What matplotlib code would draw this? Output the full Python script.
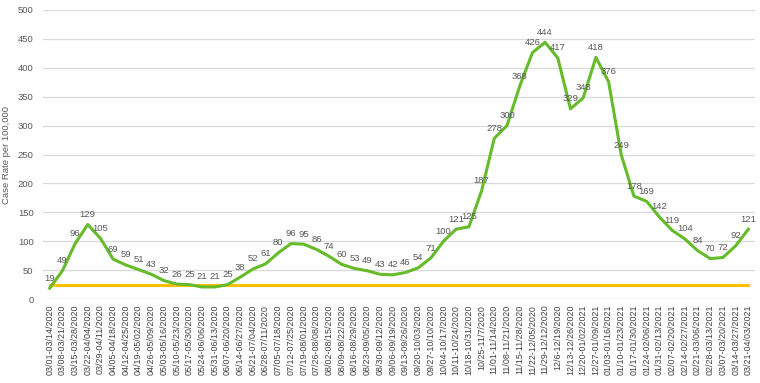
import matplotlib
matplotlib.use('Agg')
import matplotlib.pyplot as plt

plt.rcParams['font.family'] = ['Liberation Sans', 'DejaVu Sans']

# Two-week windows
weeks = [
    '03/01-03/14/2020', '03/08-03/21/2020', '03/15-03/28/2020', '03/22-04/04/2020',
    '03/29-04/11/2020', '04/05-04/18/2020', '04/12-04/25/2020', '04/19-05/02/2020',
    '04/26-05/09/2020', '05/03-05/16/2020', '05/10-05/23/2020', '05/17-05/30/2020',
    '05/24-06/06/2020', '05/31-06/13/2020', '06/07-06/20/2020', '06/14-06/27/2020',
    '06/21-07/04/2020', '06/28-07/11/2020', '07/05-07/18/2020', '07/12-07/25/2020',
    '07/19-08/01/2020', '07/26-08/08/2020', '08/02-08/15/2020', '08/09-08/22/2020',
    '08/16-08/29/2020', '08/23-09/05/2020', '08/30-09/12/2020', '09/06-09/19/2020',
    '09/13-09/26/2020', '09/20-10/03/2020', '09/27-10/10/2020', '10/04-10/17/2020',
    '10/11-10/24/2020', '10/18-10/31/2020', '10/25-11/7/2020', '11/01-11/14/2020',
    '11/08-11/21/2020', '11/15-11/28/2020', '11/22-12/05/2020', '11/29-12/12/2020',
    '12/6-12/19/2020', '12/13-12/26/2020', '12/20-01/02/2021', '12/27-01/09/2021',
    '01/03-01/16/2021', '01/10-01/23/2021', '01/17-01/30/2021', '01/24-02/06/2021',
    '01/31-02/13/2021', '02/07-02/20/2021', '02/14-02/27/2021', '02/21-03/06/2021',
    '02/28-03/13/2021', '03/07-03/20/2021', '03/14-03/27/2021', '03/21-04/03/2021',
]

case_rate = [
    19, 49, 96, 129, 105, 69, 59, 51, 43, 32, 26, 25, 21, 21, 25, 38,
    52, 61, 80, 96, 95, 86, 74, 60, 53, 49, 43, 42, 46, 54, 71, 100,
    121, 125, 187, 278, 300, 368, 426, 444, 417, 329, 348, 418, 376, 249,
    178, 169, 142, 119, 104, 84, 70, 72, 92, 121,
]

threshold = [25] * len(weeks)

fig = plt.figure(figsize=(7.6, 3.83), dpi=100)
ax = fig.add_axes([0.057, 0.219, 0.936, 0.755])

x = list(range(len(weeks)))
ax.plot(x, threshold, color='#FFC000', linewidth=2.2, zorder=2)
ax.plot(x, case_rate, color='#66BB2A', linewidth=2.2, zorder=3)

# Data labels above each point
for i, v in enumerate(case_rate):
    ax.annotate(str(v), (i, v), xytext=(0, 4), textcoords='offset points',
                ha='center', va='bottom', fontsize=6.8, color='#595959')

ax.set_ylim(0, 500)
ax.set_yticks(range(0, 501, 50))
ax.set_xlim(-0.5, len(weeks) - 0.5)
ax.set_xticks(x)
ax.set_xticklabels(weeks, rotation=90, fontsize=6.4, color='#404040')
ax.tick_params(axis='y', labelsize=6.8, labelcolor='#595959', length=0, pad=7)
ax.tick_params(axis='x', length=0, pad=4)

ax.grid(axis='y', color='#D9D9D9', linewidth=0.9)
ax.set_axisbelow(True)
for s in ax.spines.values():
    s.set_visible(False)

ax.set_ylabel('Case Rate per 100,000', fontsize=6.8, color='#595959', labelpad=5)

plt.savefig('out.png', dpi=100)
